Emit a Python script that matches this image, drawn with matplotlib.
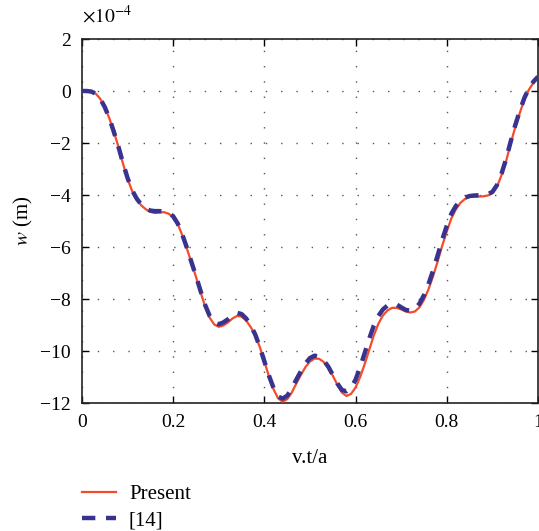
import matplotlib

matplotlib.use("Agg")
import matplotlib.pyplot as plt

# deflection w, in units of 1e-4 m, against v.t/a
x_pos = [
    0.00, 0.01, 0.02, 0.03, 0.04, 0.05, 0.06, 0.07, 0.08, 0.09,
    0.10, 0.11, 0.12, 0.13, 0.14, 0.15, 0.16, 0.17, 0.18, 0.19,
    0.20, 0.21, 0.22, 0.23, 0.24, 0.25, 0.26, 0.27, 0.28, 0.29,
    0.30, 0.31, 0.32, 0.33, 0.34, 0.35, 0.36, 0.37, 0.38, 0.39,
    0.40, 0.41, 0.42, 0.43, 0.44, 0.45, 0.46, 0.47, 0.48, 0.49,
    0.50, 0.51, 0.52, 0.53, 0.54, 0.55, 0.56, 0.57, 0.58, 0.59,
    0.60, 0.61, 0.62, 0.63, 0.64, 0.65, 0.66, 0.67, 0.68, 0.69,
    0.70, 0.71, 0.72, 0.73, 0.74, 0.75, 0.76, 0.77, 0.78, 0.79,
    0.80, 0.81, 0.82, 0.83, 0.84, 0.85, 0.86, 0.87, 0.88, 0.89,
    0.90, 0.91, 0.92, 0.93, 0.94, 0.95, 0.96, 0.97, 0.98, 0.99,
    1.00,
]

w_present = [
    0.00, 0.00, -0.02, -0.10, -0.30, -0.62, -1.05, -1.58, -2.15, -2.80,
    -3.38, -3.85, -4.17, -4.40, -4.55, -4.65, -4.69, -4.67, -4.66, -4.72,
    -4.85, -5.12, -5.55, -6.06, -6.60, -7.15, -7.74, -8.28, -8.72, -8.98,
    -9.07, -9.02, -8.90, -8.75, -8.65, -8.68, -8.83, -9.08, -9.40, -9.85,
    -10.40, -10.98, -11.47, -11.82, -11.95, -11.85, -11.60, -11.25, -10.92, -10.62,
    -10.40, -10.29, -10.30, -10.42, -10.65, -10.95, -11.30, -11.60, -11.73, -11.65,
    -11.40, -11.00, -10.50, -9.95, -9.40, -8.95, -8.63, -8.44, -8.34, -8.34,
    -8.40, -8.48, -8.52, -8.48, -8.32, -8.03, -7.62, -7.12, -6.55, -5.95,
    -5.40, -4.90, -4.55, -4.30, -4.15, -4.07, -4.06, -4.06, -4.05, -4.02,
    -3.93, -3.68, -3.24, -2.70, -2.02, -1.40, -0.85, -0.33, 0.05, 0.32,
    0.50,
]

w_ref14 = [
    0.00, 0.00, -0.02, -0.10, -0.30, -0.62, -1.05, -1.58, -2.15, -2.78,
    -3.35, -3.82, -4.14, -4.37, -4.52, -4.60, -4.62, -4.62, -4.63, -4.68,
    -4.82, -5.10, -5.52, -6.03, -6.58, -7.12, -7.69, -8.23, -8.65, -8.90,
    -8.97, -8.90, -8.78, -8.62, -8.53, -8.58, -8.75, -9.02, -9.37, -9.85,
    -10.40, -10.95, -11.42, -11.75, -11.83, -11.72, -11.45, -11.10, -10.78, -10.48,
    -10.27, -10.18, -10.22, -10.36, -10.60, -10.92, -11.25, -11.50, -11.55, -11.42,
    -11.10, -10.62, -10.08, -9.52, -9.02, -8.65, -8.40, -8.25, -8.18, -8.21,
    -8.32, -8.42, -8.45, -8.38, -8.18, -7.85, -7.42, -6.90, -6.32, -5.72,
    -5.18, -4.72, -4.42, -4.22, -4.10, -4.04, -4.02, -4.01, -4.00, -3.97,
    -3.88, -3.62, -3.18, -2.62, -1.95, -1.32, -0.77, -0.27, 0.10, 0.36,
    0.55,
]

x_ticks = [0, 0.2, 0.4, 0.6, 0.8, 1]
x_tick_labels = ["0", "0.2", "0.4", "0.6", "0.8", "1"]
y_ticks = [2, 0, -2, -4, -6, -8, -10, -12]

plt.rcParams["font.family"] = ["Liberation Serif", "DejaVu Serif"]
plt.rcParams["mathtext.fontset"] = "stix"
plt.rcParams["axes.unicode_minus"] = True

fig = plt.figure(figsize=(5.39, 5.31), dpi=100)
ax = fig.add_axes([82 / 539, 1 - 403 / 531, 456 / 539, 364 / 531])

ax.plot(x_pos, w_present, color="#f24c2b", lw=1.6, label="Present", zorder=3)
ax.plot(x_pos, w_ref14, color="#38338f", lw=3.2, dashes=(3.0, 2.4),
        label="[14]", zorder=4)

ax.set_xlim(0, 1)
ax.set_ylim(-12, 2)
ax.set_xticks(x_ticks)
ax.set_xticklabels(x_tick_labels)
ax.set_yticks(y_ticks)

# multiplier for the y values
ax.text(0, 1.035, r"$\times 10^{-4}$", transform=ax.transAxes,
        fontsize=14, ha="left", va="bottom")

ax.tick_params(direction="in", top=True, right=True, length=5, width=1,
               labelsize=14)
ax.tick_params(axis="x", pad=8)
ax.tick_params(axis="y", pad=8)
ax.grid(True, color="#555555", linestyle=(0, (1, 10)), linewidth=1)
for s in ax.spines.values():
    s.set_linewidth(1.2)
    s.set_color("#222222")

ax.set_xlabel("v.t/a", fontsize=15, labelpad=13)
ax.set_ylabel("$w$ (m)", fontsize=15, labelpad=4)

ax.legend(loc="upper left", bbox_to_anchor=(0, -0.225), frameon=False,
          fontsize=15, handlelength=1.65, handletextpad=0.6,
          borderpad=0, borderaxespad=0, labelspacing=0.3)

fig.savefig("out.png", dpi=100)
